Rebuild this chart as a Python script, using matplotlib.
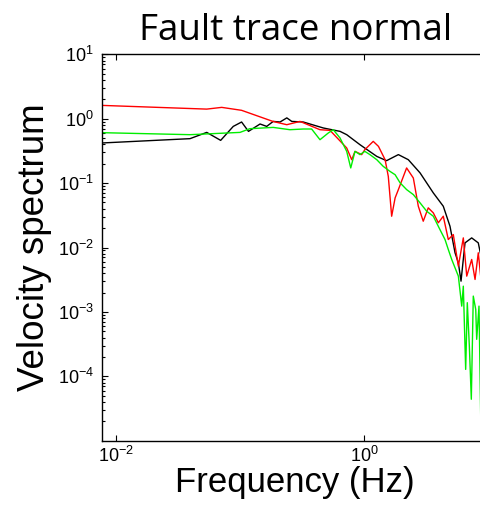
import numpy as np
import matplotlib
matplotlib.use("Agg")
import matplotlib.pyplot as plt
from matplotlib.ticker import LogLocator, NullLocator

plt.rcParams['font.family'] = ['Liberation Sans', 'DejaVu Sans']
plt.rcParams['mathtext.default'] = 'regular'

# Velocity spectra at the fault trace, normal component
freq_red = [0.00776, 0.0540, 0.0713, 0.103, 0.184, 0.238, 0.304, 0.440, 0.530,
            0.722, 0.792, 0.842, 0.953, 1.01, 1.18, 1.30, 1.47, 1.56, 1.66,
            1.77, 1.88, 2.19, 2.48, 2.72, 2.98, 3.27, 3.59, 3.94, 4.32, 4.74,
            5.20, 5.71, 6.26, 6.67, 7.31, 7.78, 8.26, 8.69]
amp_red = [1.61, 1.41, 1.50, 1.35, 0.908, 0.807, 0.908, 0.675, 0.659,
           0.351, 0.231, 0.311, 0.277, 0.331, 0.445, 0.372, 0.231, 0.127, 0.0306,
           0.0590, 0.0793, 0.172, 0.120, 0.0437, 0.0256, 0.0413, 0.0345, 0.0242,
           0.0306, 0.0133, 0.0159, 0.00513, 0.0141, 0.00359, 0.00652, 0.00319,
           0.00828, 0.00319]

freq_black = [0.00776, 0.0396, 0.0540, 0.0699, 0.0883, 0.103, 0.117, 0.145,
              0.164, 0.185, 0.210, 0.238, 0.261, 0.323, 0.468, 0.638, 0.722,
              0.923, 1.26, 1.51, 1.88, 2.26, 2.81, 3.59, 4.32, 4.89, 5.37, 5.71,
              6.00, 6.46, 7.31, 8.26, 8.69]
amp_black = [0.420, 0.490, 0.613, 0.461, 0.760, 0.889, 0.636, 0.828,
             0.760, 0.908, 0.889, 1.03, 0.908, 0.889, 0.718, 0.636, 0.565,
             0.395, 0.260, 0.223, 0.277, 0.231, 0.144, 0.0705, 0.0437, 0.0214,
             0.00828, 0.00579, 0.00300, 0.0118, 0.0141, 0.0118, 0.00733]

freq_green = [0.00776, 0.0396, 0.100, 0.120, 0.185, 0.252, 0.323, 0.377, 0.440,
              0.513, 0.563, 0.638, 0.722, 0.778, 0.842, 0.923, 1.01, 1.11, 1.26,
              1.42, 1.61, 1.77, 1.94, 2.19, 2.48, 2.81, 3.18, 3.59, 4.06, 4.46,
              4.74, 5.05, 5.71, 6.08, 6.26, 6.54, 6.74, 7.00, 7.26, 7.53, 7.88,
              8.02, 8.37, 8.64]
amp_green = [0.607, 0.565, 0.613, 0.700, 0.733, 0.675, 0.692, 0.692, 0.472,
             0.600, 0.675, 0.502, 0.311, 0.172, 0.311, 0.277, 0.311, 0.277, 0.231,
             0.182, 0.152, 0.135, 0.101, 0.0793, 0.0663, 0.0493, 0.0365, 0.0306,
             0.0190, 0.0133, 0.00931, 0.00652, 0.00359, 0.00123, 0.00251, 0.000128,
             0.00139, 0.000295, 0.0000440, 0.00176, 0.00109, 0.000375, 0.00123,
             0.0000242]

fig = plt.figure(figsize=(4.81, 5.11), dpi=100)
# axes run a little past the right edge of the figure
ax = fig.add_axes([0.2121, 0.1376, 0.8037, 0.7561])

ax.loglog(freq_black, amp_black, color='black', lw=1.0)
ax.loglog(freq_red, amp_red, color='#ff0000', lw=1.0)
ax.loglog(freq_green, amp_green, color='#00ee00', lw=1.0)

ax.set_xlim(10**-2.11, 10.0)
ax.set_ylim(1e-5, 1e1)

ax.set_xticks([1e-2, 1e0])
ax.xaxis.set_minor_locator(NullLocator())
ax.set_yticks([1e1, 1e0, 1e-1, 1e-2, 1e-3, 1e-4])
ax.yaxis.set_minor_locator(LogLocator(base=10, subs=np.arange(2, 10)))

ax.tick_params(which='both', direction='in', top=True, right=True,
               labelsize=13, width=0.8)
ax.tick_params(which='major', length=4, pad=6)
ax.tick_params(axis='x', which='major', pad=4)
ax.tick_params(which='minor', length=2.5)
for sp in ax.spines.values():
    sp.set_linewidth(1.0)

ax.set_xlabel('Frequency (Hz)', fontsize=25, labelpad=0)
ax.set_ylabel('Velocity spectrum', fontsize=26.5, labelpad=4)
ax.set_title('Fault trace normal', fontsize=26.5, family=['Open Sans', 'DejaVu Sans'],
             pad=10)

fig.savefig('out.png', dpi=100)
